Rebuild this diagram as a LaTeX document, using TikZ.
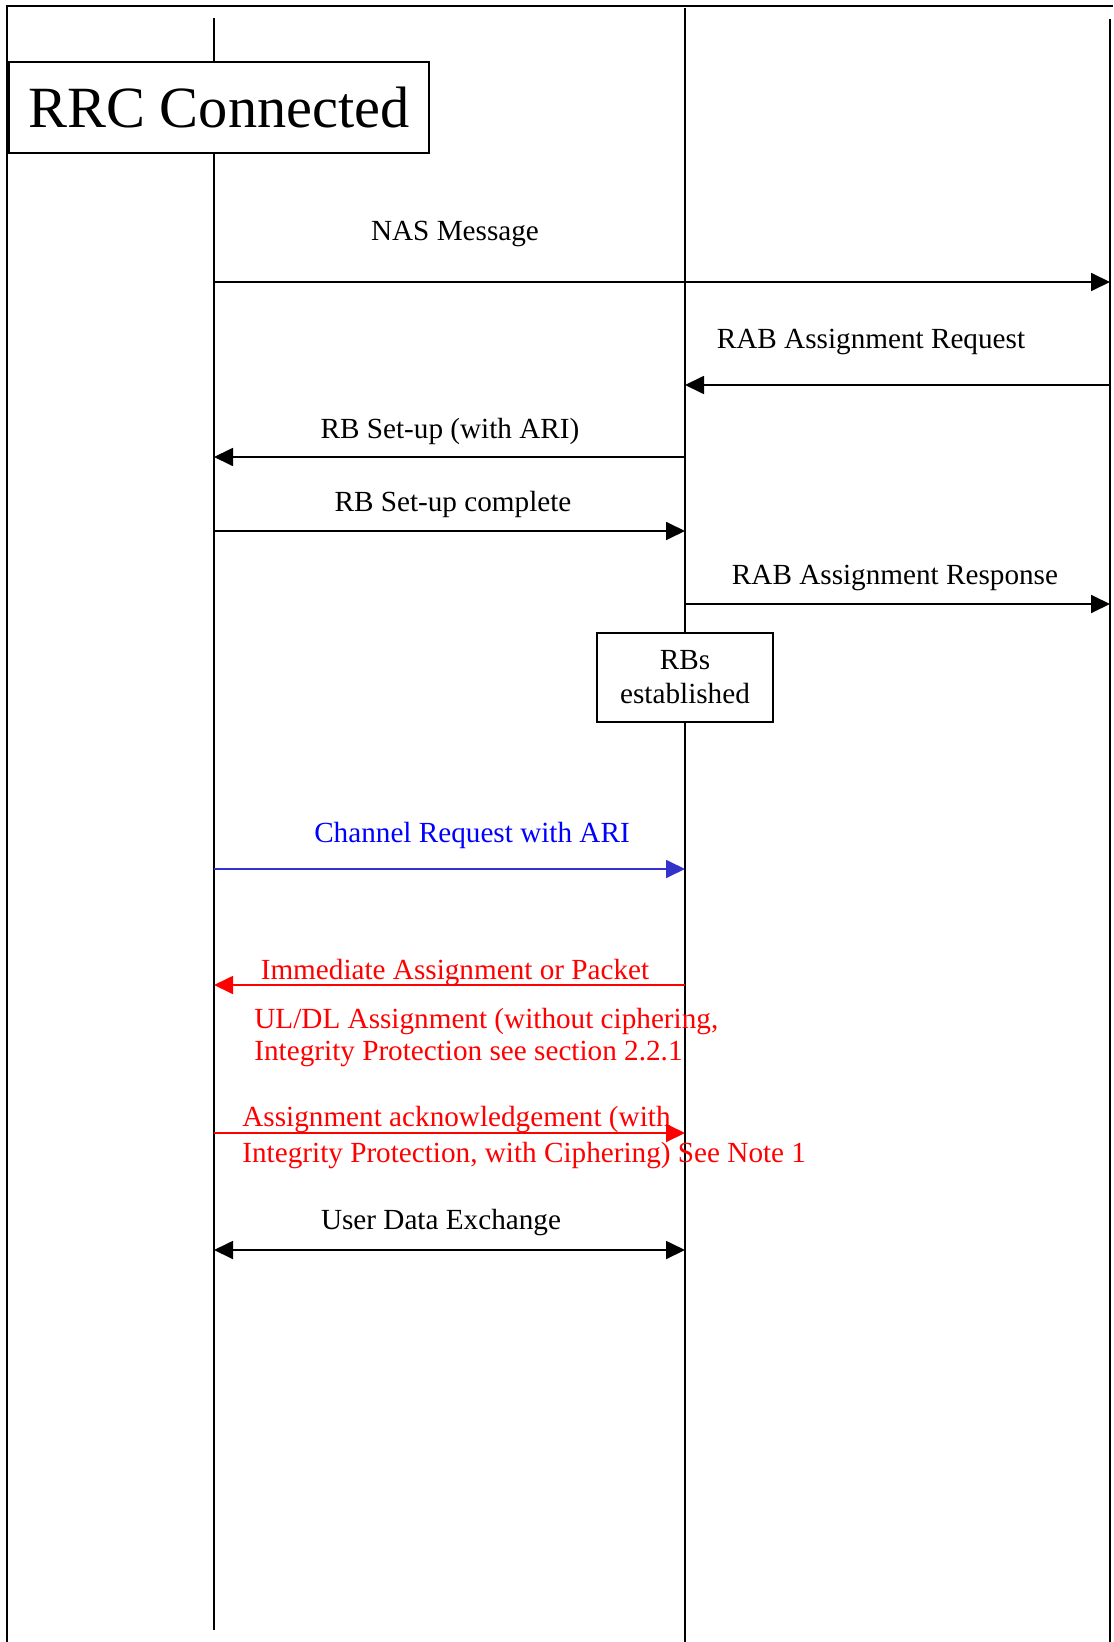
\documentclass[tikz,border=0pt]{standalone}
\usepackage{fontspec}
\setmainfont{Liberation Serif}
\usetikzlibrary{positioning,arrows.meta}
\definecolor{reqblue}{RGB}{51,51,204}

\begin{document}
\begin{tikzpicture}[
    x=0.5pt, y=-0.5pt,
    every node/.style={font=\fontsize{14.6}{17}\selectfont, inner sep=0pt},
    >={Triangle[length=9.5pt,width=9pt]},
    life/.style={line width=1pt},
    msg/.style={->, line width=0.9pt},
    statebox/.style={draw, line width=0.9pt, fill=white, align=center},
    lbl/.style={anchor=base}
  ]
    \useasboundingbox (0,0) rectangle (1113,1642);
    \draw[line width=0.8pt] (7,1642) -- (7,6) -- (1113,6);

    % lifelines
    \coordinate (ue) at (214,18);
    \coordinate (ue-end) at (214,1630);
    \coordinate (rnc) at (685,8);
    \coordinate (rnc-end) at (685,1642);
    \coordinate (cn) at (1110,19);
    \coordinate (cn-end) at (1110,1642);
    \draw[life] (ue) -- (ue-end);
    \draw[life] (rnc) -- (rnc-end);
    \draw[life] (cn) -- (cn-end);

    \node[statebox, minimum width=210pt, minimum height=45.5pt,
          font=\fontsize{29.2}{34}\selectfont] (rrc) at (219,107.5) {RRC Connected};
    \node[statebox, minimum width=88pt, minimum height=44.5pt] (rbs) at (685,677.5) {RBs\\established};

    % message levels
    \coordinate (m1) at (0,282);
    \coordinate (m2) at (0,385);
    \coordinate (m3) at (0,457);
    \coordinate (m4) at (0,531);
    \coordinate (m5) at (0,604);
    \coordinate (m6) at (0,869);
    \coordinate (m7) at (0,985);
    \coordinate (m8) at (0,1133);
    \coordinate (m9) at (0,1250);

    \node[lbl] (nas) at (455,241) {NAS Message};
    \draw[msg] (ue |- m1) -- (cn |- m1);
    \node[lbl] (rabreq) at (871,349) {RAB Assignment Request};
    \draw[msg] (cn |- m2) -- (rnc |- m2);
    \node[lbl] (rbsetup) at (450,438) {RB Set-up (with ARI)};
    \draw[msg] (rnc |- m3) -- (ue |- m3);
    \node[lbl] (rbcompl) at (453,511) {RB Set-up complete};
    \draw[msg] (ue |- m4) -- (rnc |- m4);
    \node[lbl] (rabresp) at (895,584) {RAB Assignment Response};
    \draw[msg] (rnc |- m5) -- (cn |- m5);

    \node[lbl, text=blue] (chreq) at (472,842) {Channel Request with ARI};
    \draw[msg, reqblue] (ue |- m6) -- (rnc |- m6);

    \node[lbl, text=red] (immass) at (455,979) {Immediate Assignment or Packet};
    \draw[msg, red] (rnc |- m7) -- (ue |- m7);
    \node[anchor=base west, align=left, text=red,
          font=\fontsize{14.6}{16}\selectfont] (uldl) at (254,1060)
      {UL/DL Assignment (without ciphering,\\Integrity Protection see section 2.2.1};
    \node[anchor=base west, align=left, text=red,
          font=\fontsize{14.6}{18}\selectfont] (assack) at (242,1162)
      {Assignment acknowledgement (with\\Integrity Protection, with Ciphering) See Note 1};
    \draw[msg, red] (ue |- m8) -- (rnc |- m8);

    \node[lbl] (udata) at (441,1229) {User Data Exchange};
    \draw[msg, <->] (ue |- m9) -- (rnc |- m9);
  \end{tikzpicture}
\end{document}
